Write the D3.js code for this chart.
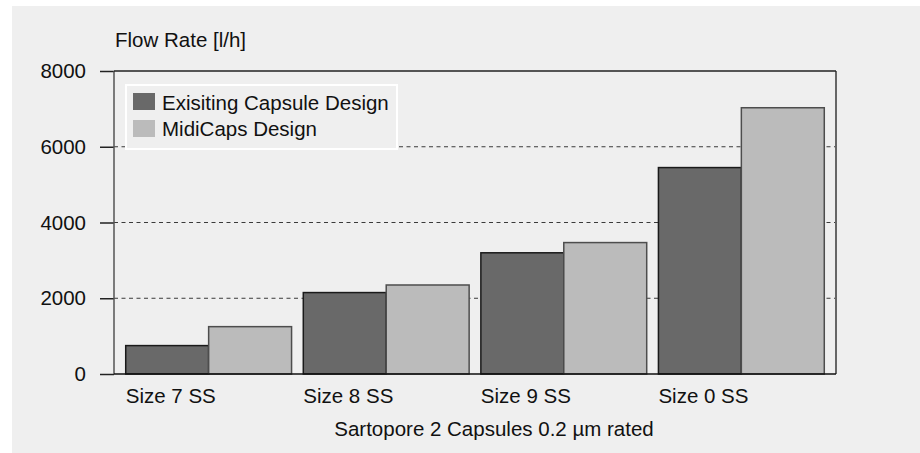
<!DOCTYPE html>
<html>
<head>
<meta charset="utf-8">
<script src="https://cdn.jsdelivr.net/npm/d3@7"></script>
<style>
  body { margin: 0; background: #ffffff; }
  text { font-family: "Liberation Sans", Arial, sans-serif; fill: #111; }
</style>
</head>
<body>
<div id="chart"></div>
<script>
// chart data
var categories = ["Size 7 SS", "Size 8 SS", "Size 9 SS", "Size 0 SS"];
var seriesNames = ["Exisiting Capsule Design", "MidiCaps Design"];
var existingValues = [750, 2150, 3200, 5450];
var midicapsValues = [1250, 2350, 3470, 7030];
var yTicks = [0, 2000, 4000, 6000, 8000];

var svgWidth = 920;
var svgHeight = 453;

var margin = { top: 71, right: 84, bottom: 79, left: 114 };
var width = svgWidth - margin.left - margin.right;
var height = svgHeight - margin.top - margin.bottom;

var fontSize = "20.5px";
var colors = ["#696969", "#bbbbbb"];
var strokes = ["#1a1a1a", "#4d4d4d"];

var svg = d3.select("#chart")
  .append("svg")
  .attr("width", svgWidth)
  .attr("height", svgHeight);

// grey panel behind everything
svg.append("rect")
  .attr("x", 12)
  .attr("y", 6)
  .attr("width", svgWidth - 12)
  .attr("height", svgHeight - 6)
  .attr("fill", "#efefef");

var chartGroup = svg.append("g")
  .attr("transform", `translate(${margin.left}, ${margin.top})`);

// scales
var xScale = d3.scaleBand()
  .domain(categories)
  .range([0, width])
  .paddingInner(0.066)
  .paddingOuter(0.066);

var xSub = d3.scaleBand()
  .domain(seriesNames)
  .range([0, xScale.bandwidth()]);

var yScale = d3.scaleLinear()
  .domain([0, 8000])
  .range([height, 0]);

// dashed grid lines
chartGroup.append("g")
  .selectAll("line")
  .data(yTicks.filter(d => d > 0 && d < 8000))
  .enter()
  .append("line")
  .attr("x1", 0)
  .attr("x2", width)
  .attr("y1", d => yScale(d))
  .attr("y2", d => yScale(d))
  .attr("stroke", "#3a3a3a")
  .attr("stroke-width", 1)
  .attr("stroke-dasharray", "4,3.5");

// bars
var tableData = categories.map(function(c, i) {
  return { cat: c, values: [existingValues[i], midicapsValues[i]] };
});

var groups = chartGroup.selectAll("g.bar-group")
  .data(tableData)
  .enter()
  .append("g")
  .attr("class", "bar-group")
  .attr("transform", d => `translate(${xScale(d.cat)}, 0)`);

groups.selectAll("rect")
  .data(d => d.values.map((v, j) => ({ series: seriesNames[j], value: v, idx: j })))
  .enter()
  .append("rect")
  .attr("x", d => xSub(d.series))
  .attr("y", d => yScale(d.value))
  .attr("width", xSub.bandwidth())
  .attr("height", d => height - yScale(d.value))
  .attr("fill", d => colors[d.idx])
  .attr("stroke", d => strokes[d.idx])
  .attr("stroke-width", 1.5);

// legend
var legend = chartGroup.append("g")
  .attr("transform", "translate(12, 14)");

legend.append("rect")
  .attr("x", 0)
  .attr("y", 0)
  .attr("width", 271)
  .attr("height", 64)
  .attr("fill", "#efefef")
  .attr("stroke", "#ffffff")
  .attr("stroke-width", 2);

seriesNames.forEach(function(name, i) {
  legend.append("rect")
    .attr("x", 7)
    .attr("y", 8 + i * 27)
    .attr("width", 22)
    .attr("height", 17)
    .attr("fill", colors[i]);
  legend.append("text")
    .attr("x", 36)
    .attr("y", 25 + i * 26)
    .style("font-size", fontSize)
    .text(name);
});

// y axis: ticks + labels
var leftAxis = d3.axisLeft(yScale)
  .tickValues(yTicks)
  .tickSize(14)
  .tickPadding(14)
  .tickFormat(d3.format("d"));

var yAxis = chartGroup.append("g")
  .call(leftAxis);
yAxis.select(".domain").remove();
yAxis.selectAll(".tick line")
  .attr("stroke", "#222")
  .attr("stroke-width", 1.5);
yAxis.selectAll(".tick text")
  .style("font-size", fontSize)
  .style("font-family", "'Liberation Sans', Arial, sans-serif")
  .attr("fill", "#111");

// frame lines
chartGroup.append("line")
  .attr("x1", 0).attr("x2", 0)
  .attr("y1", 0).attr("y2", height)
  .attr("stroke", "#555")
  .attr("stroke-width", 1.5);

chartGroup.append("line")
  .attr("x1", width).attr("x2", width)
  .attr("y1", 0).attr("y2", height)
  .attr("stroke", "#666")
  .attr("stroke-width", 2);

chartGroup.append("line")
  .attr("x1", 0).attr("x2", width)
  .attr("y1", 0).attr("y2", 0)
  .attr("stroke", "#222")
  .attr("stroke-width", 1.5);

chartGroup.append("line")
  .attr("x1", 0).attr("x2", width)
  .attr("y1", height).attr("y2", height)
  .attr("stroke", "#111")
  .attr("stroke-width", 1.5);

// x labels, left aligned to the group
chartGroup.append("g")
  .selectAll("text")
  .data(categories)
  .enter()
  .append("text")
  .attr("x", d => xScale(d))
  .attr("y", height + 29)
  .style("font-size", fontSize)
  .text(d => d);

// axis titles
svg.append("text")
  .attr("x", 115)
  .attr("y", 47)
  .style("font-size", fontSize)
  .text("Flow Rate [l/h]");

svg.append("text")
  .attr("x", 494)
  .attr("y", 436)
  .attr("text-anchor", "middle")
  .style("font-size", fontSize)
  .text("Sartopore 2 Capsules 0.2 µm rated");
</script>
</body>
</html>
